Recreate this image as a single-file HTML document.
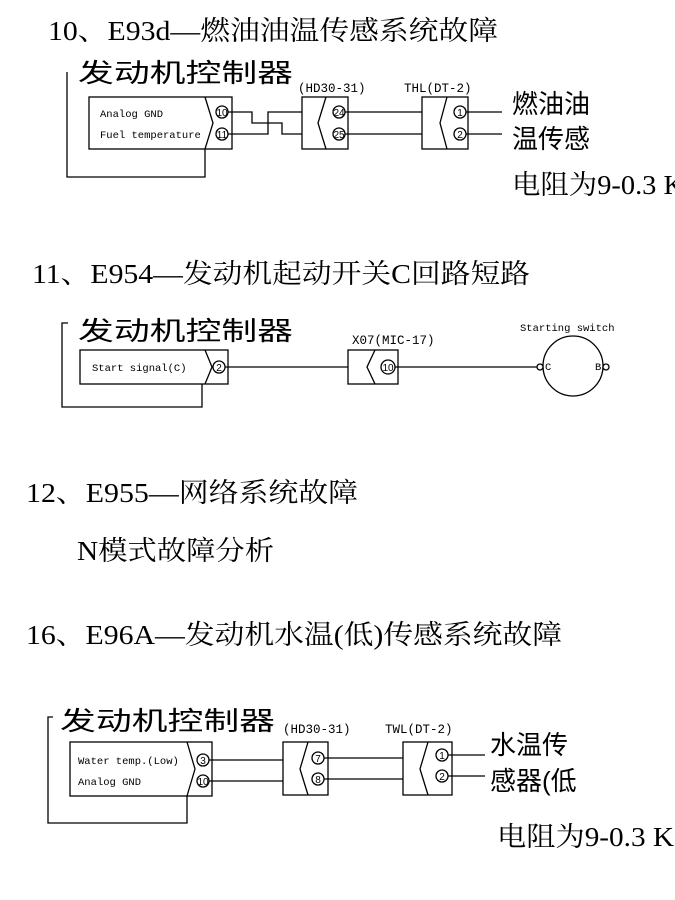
<!DOCTYPE html>
<html><head><meta charset="utf-8"><style>
html,body{margin:0;padding:0;background:#fff;}
svg{display:block;}
.t{font-family:"Liberation Serif","Noto Serif CJK SC",serif;font-size:27px;fill:#000;}
.c{font-family:"Liberation Sans","Noto Sans CJK SC",sans-serif;font-size:26px;fill:#000;}
.m{font-family:"Liberation Mono","DejaVu Sans Mono",monospace;font-size:10.5px;fill:#000;}
.ml{font-family:"Liberation Mono","DejaVu Sans Mono",monospace;font-size:12.5px;fill:#000;}
.p{font-family:"Liberation Sans",sans-serif;font-size:10px;fill:#000;text-anchor:middle;}
line,polyline,rect,circle,path{stroke:#000;stroke-width:1.3;fill:none;}
</style></head><body>
<svg width="675" height="900" viewBox="0 0 675 900" xmlns="http://www.w3.org/2000/svg">
<text class="t" x="48" y="40" textLength="450" lengthAdjust="spacingAndGlyphs">10、E93d—燃油油温传感系统故障</text>
<text class="t" x="32" y="283" textLength="498" lengthAdjust="spacingAndGlyphs">11、E954—发动机起动开关C回路短路</text>
<text class="t" x="26" y="502" textLength="332" lengthAdjust="spacingAndGlyphs">12、E955—网络系统故障</text>
<text class="t" x="77" y="560" textLength="197" lengthAdjust="spacingAndGlyphs">N模式故障分析</text>
<text class="t" x="26" y="644" textLength="536" lengthAdjust="spacingAndGlyphs">16、E96A—发动机水温(低)传感系统故障</text>

<!-- Diagram 1 -->
<text class="c" x="78" y="82" textLength="215" lengthAdjust="spacingAndGlyphs">发动机控制器</text>
<polyline points="67,72 67,177 205,177 205,149"/>
<rect x="89" y="97" width="143" height="52"/>
<polyline points="205,97 213,123 205,149"/>
<text class="m" x="100" y="117">Analog GND</text>
<text class="m" x="100" y="138">Fuel temperature</text>
<circle cx="222" cy="112" r="6"/><text class="p" x="222" y="116">10</text>
<circle cx="222" cy="134" r="6"/><text class="p" x="222" y="138">11</text>
<polyline points="228,112 252,112 252,123 282,123 282,134 302,134"/>
<polyline points="228,134 268,134 268,112 302,112"/>
<text class="ml" x="298" y="92">(HD30-31)</text>
<rect x="302" y="97" width="46" height="52"/>
<polyline points="326,97 318,123 326,149"/>
<circle cx="339" cy="112" r="6"/><text class="p" x="339" y="116">24</text>
<circle cx="339" cy="134" r="6"/><text class="p" x="339" y="138">25</text>
<line x1="345" y1="112" x2="422" y2="112"/><line x1="345" y1="134" x2="422" y2="134"/>
<text class="ml" x="404" y="92">THL(DT-2)</text>
<rect x="422" y="97" width="46" height="52"/>
<polyline points="447,97 440,123 447,149"/>
<circle cx="460" cy="112" r="6"/><text class="p" x="460" y="116">1</text>
<circle cx="460" cy="134" r="6"/><text class="p" x="460" y="138">2</text>
<line x1="466" y1="112" x2="502" y2="112"/><line x1="466" y1="134" x2="502" y2="134"/>
<text class="c" x="512" y="113" font-size="28">燃油油</text>
<text class="c" x="512" y="148" font-size="28">温传感</text>
<text class="t" x="512" y="194" font-size="28" textLength="172" lengthAdjust="spacingAndGlyphs">电阻为9-0.3 K</text>

<!-- Diagram 2 -->
<text class="c" x="78" y="340" textLength="215" lengthAdjust="spacingAndGlyphs">发动机控制器</text>
<polyline points="68,323 62,323 62,407 202,407 202,384"/>
<rect x="80" y="350" width="148" height="34"/>
<polyline points="205,350 212,367 205,384"/>
<text class="m" x="92" y="371">Start signal(C)</text>
<circle cx="219" cy="367" r="6"/><text class="p" x="219" y="371">2</text>
<line x1="225" y1="367" x2="348" y2="367"/>
<text class="ml" x="352" y="344">X07(MIC-17)</text>
<rect x="348" y="350" width="50" height="34"/>
<polyline points="375,350 367,367 375,384"/>
<circle cx="388" cy="367" r="7"/><text class="p" x="388" y="371">10</text>
<line x1="395" y1="367" x2="537" y2="367"/>
<circle cx="573" cy="366" r="30"/>
<circle cx="540" cy="367" r="3" style="fill:#fff"/>
<circle cx="606" cy="367" r="3" style="fill:#fff"/>
<text class="m" x="545" y="370" font-size="8">C</text>
<text class="m" x="595" y="370" font-size="8">B</text>
<text class="m" x="520" y="331" font-size="9.5">Starting switch</text>

<!-- Diagram 3 -->
<text class="c" x="60" y="730" textLength="215" lengthAdjust="spacingAndGlyphs">发动机控制器</text>
<polyline points="53,717 48,717 48,823 187,823 187,796"/>
<rect x="70" y="742" width="142" height="54"/>
<polyline points="187,742 195,769 187,796"/>
<text class="m" x="78" y="764">Water temp.(Low)</text>
<text class="m" x="78" y="785">Analog GND</text>
<circle cx="203" cy="760" r="6"/><text class="p" x="203" y="764">3</text>
<circle cx="203" cy="781" r="6"/><text class="p" x="203" y="785">10</text>
<line x1="209" y1="760" x2="283" y2="760"/><line x1="209" y1="781" x2="283" y2="781"/>
<text class="ml" x="283" y="733">(HD30-31)</text>
<rect x="283" y="742" width="45" height="53"/>
<polyline points="308,742 300,769 308,795"/>
<circle cx="318" cy="758" r="6"/><text class="p" x="318" y="762">7</text>
<circle cx="318" cy="779" r="6"/><text class="p" x="318" y="783">8</text>
<line x1="324" y1="758" x2="403" y2="758"/><line x1="324" y1="779" x2="403" y2="779"/>
<text class="ml" x="385" y="733">TWL(DT-2)</text>
<rect x="403" y="742" width="49" height="53"/>
<polyline points="428,742 420,769 428,795"/>
<circle cx="442" cy="755" r="6"/><text class="p" x="442" y="759">1</text>
<circle cx="442" cy="776" r="6"/><text class="p" x="442" y="780">2</text>
<line x1="448" y1="755" x2="485" y2="755"/><line x1="448" y1="776" x2="485" y2="776"/>
<text class="c" x="490" y="754" font-size="28">水温传</text>
<text class="c" x="490" y="790" font-size="28">感器(低</text>
<text class="t" x="497" y="846" font-size="28" textLength="177" lengthAdjust="spacingAndGlyphs">电阻为9-0.3 K</text>
</svg>
</body></html>
